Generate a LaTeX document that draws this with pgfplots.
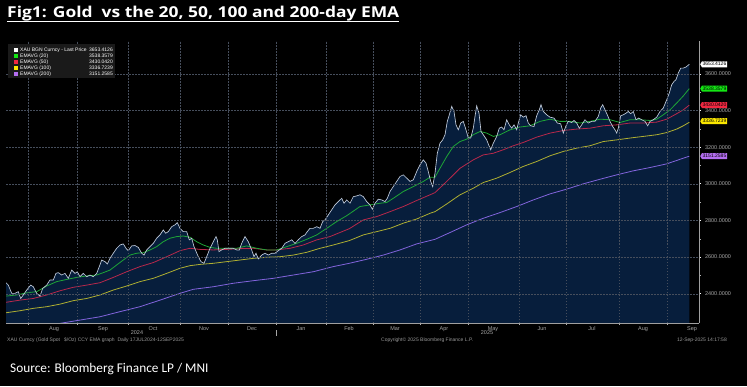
\documentclass[border=0pt]{standalone}
\usepackage{pgfplots}
\pgfplotsset{compat=1.18}
\usepackage{pgfplotstable}
\usepackage{graphicx}
\usepackage{fontspec}
\setmainfont{Liberation Sans}
\newfontfamily\titlefont{Open Sans}
\newfontfamily\srcfont{Carlito}
\usetikzlibrary{shapes.symbols}

\definecolor{navyfill}{RGB}{7,30,60}
\definecolor{priceline}{RGB}{195,205,220}
\definecolor{emagreen}{RGB}{30,165,55}
\definecolor{emared}{RGB}{185,40,75}
\definecolor{emayellow}{RGB}{175,175,50}
\definecolor{emapurple}{RGB}{130,100,220}
\definecolor{taggreen}{RGB}{20,230,20}
\definecolor{tagred}{RGB}{240,40,65}
\definecolor{tagyellow}{RGB}{250,230,0}
\definecolor{tagpurple}{RGB}{180,110,240}
\definecolor{gridc}{RGB}{70,78,92}
\definecolor{legbg}{RGB}{26,26,26}

\pgfplotstableread{
x y
6 2460
8.3 2447
11.7 2402
15 2402
18.3 2411
20.7 2374
23.3 2393
26.7 2420
30.7 2447
33.3 2438
36.7 2402
40 2387
42.7 2429
46.7 2447
50 2475
53.3 2475
56 2511
58.3 2515
61.7 2502
65 2511
68.3 2484
71.7 2529
75 2511
77.3 2520
80 2493
83.3 2511
86.7 2493
90 2502
93.3 2493
96.7 2511
99.3 2548
101.7 2584
105 2575
107.3 2562
110 2593
113.3 2621
116.7 2648
120 2666
123.3 2672
126 2648
128.3 2635
131.7 2661
135 2663
138.3 2653
141.7 2621
144 2611
146.7 2639
150 2657
153.3 2675
156.7 2703
160 2721
163.3 2748
165.7 2730
168.3 2739
171.7 2766
175 2776
177.3 2788
180 2757
183.3 2739
186.7 2739
189.3 2694
191.7 2703
194 2657
198.3 2602
201 2575
204 2566
206.7 2602
210 2648
213.3 2684
216 2712
217.3 2694
219 2630
221.7 2639
225 2648
228.3 2648
233.3 2648
236.7 2639
239.3 2639
241.7 2675
245 2712
248.3 2684
251.7 2639
254 2602
256 2621
258.3 2590
261.7 2611
265 2621
268.3 2611
271.7 2621
275 2621
278.3 2635
281.7 2648
285 2675
288.3 2684
291.7 2694
295 2675
298.3 2694
301.7 2712
305 2721
307.3 2739
310 2757
313.3 2757
316.7 2766
320 2757
322.7 2794
325 2803
328.3 2830
331.7 2858
335 2885
338.3 2903
341.7 2921
344 2894
346.7 2912
350 2894
353.3 2930
356.7 2934
360 2940
363.3 2930
366.7 2903
370 2885
372.3 2861
375 2894
378.3 2916
381.7 2912
385 2903
387.3 2921
390 2958
393.3 2985
396.7 3013
400 3040
403.3 3049
406.7 3031
410 3013
413.3 3022
416.7 3067
420 3104
423.3 3131
426 3113
428.3 3067
430.7 3013
432.7 2985
435 3058
437.3 3167
440 3222
442.7 3240
445 3268
447.3 3341
449.3 3377
451.7 3423
454 3395
456 3322
458.3 3295
460.7 3332
463.3 3341
466 3295
468.3 3250
470.7 3250
473.3 3304
475 3368
476.7 3426
479 3386
481 3286
483.3 3268
486.7 3240
489.3 3204
490.7 3186
493.3 3222
496.7 3259
499.3 3304
501.7 3310
504 3295
506.7 3350
509.3 3322
511.7 3304
514 3322
516.7 3295
518.3 3332
520.7 3377
523.3 3364
526 3372
528.3 3332
530.7 3317
534 3313
536.7 3372
539.3 3404
541 3432
543.3 3395
546.7 3377
550 3364
554 3359
557.3 3332
560.7 3328
563.3 3277
566 3317
568.3 3341
571.7 3335
574 3346
576.7 3332
579.3 3304
581.7 3322
585 3350
588.3 3332
591.7 3341
595 3341
598.3 3368
600.7 3414
602.7 3432
605 3404
607.3 3377
610 3341
612.7 3313
615 3295
616.7 3277
618.3 3304
620.7 3372
623.3 3377
626 3386
628.3 3395
630.7 3383
633.3 3395
636 3350
638.7 3359
641.7 3350
645 3341
647.7 3317
650 3341
653.3 3350
656.7 3364
660 3395
663.3 3414
666.7 3459
669.3 3496
671.7 3541
674 3559
676 3569
678.3 3605
680.7 3632
683.3 3632
686 3638
689.3 3653
}\price

\pgfplotstableread{
x y
6 2387
16.7 2393
26.7 2405
36.7 2411
46.7 2442
56.7 2466
66.7 2478
76.7 2489
86.7 2497
96.7 2502
103.3 2515
110 2529
116.7 2557
123.3 2584
130 2611
136.7 2621
143.3 2624
150 2639
156.7 2657
163.3 2684
170 2703
176.7 2712
183.3 2715
190 2708
196.7 2684
203.3 2666
210 2653
216.7 2648
226.7 2648
236.7 2648
246.7 2661
256.7 2648
266.7 2639
276.7 2639
286.7 2657
296.7 2675
306.7 2697
316.7 2721
326.7 2757
336.7 2794
346.7 2826
360 2876
370 2885
380 2894
386.7 2898
393.3 2921
403.3 2958
413.3 2985
423.3 3013
430 3036
435 3036
440 3085
446.7 3149
453.3 3204
460 3231
466.7 3244
473.3 3268
480 3286
486.7 3277
493.3 3259
500 3268
510 3295
520 3310
530 3317
540 3341
550 3353
560 3341
570 3341
580 3332
590 3341
600 3353
610 3350
620 3335
630 3350
640 3350
650 3346
656.7 3353
663.3 3377
670 3404
676.7 3441
683.3 3480
689.3 3520
}\emaA

\pgfplotstableread{
x y
6 2353
20 2365
33.3 2374
46.7 2393
60 2416
73.3 2435
86.7 2447
100 2460
113.3 2489
126.7 2520
140 2548
153.3 2570
166.7 2602
180 2635
190 2648
200 2642
213.3 2639
226.7 2642
240 2646
253.3 2648
266.7 2639
276.7 2639
290 2648
303.3 2666
316.7 2694
330 2712
349.3 2755
363.3 2803
376.7 2821
390 2848
403.3 2876
416.7 2909
430 2940
435 2952
446.7 3013
460 3085
473.3 3131
483.3 3158
493.3 3167
503.3 3186
513.3 3208
523.3 3226
536.7 3255
550 3277
563.3 3291
576.7 3299
590 3304
603.3 3317
616.7 3322
630 3332
643.3 3332
656.7 3337
666.7 3353
676.7 3383
683.3 3404
689.3 3430
}\emaB

\pgfplotstableread{
x y
6 2296
20 2307
33.3 2320
46.7 2329
60 2343
73.3 2362
86.7 2374
100 2393
113.3 2420
126.7 2442
140 2466
153.3 2484
166.7 2511
180 2539
190 2553
200 2560
213.3 2566
226.7 2575
240 2584
253.3 2593
266.7 2599
280 2602
293.3 2611
306.7 2626
320 2648
333.3 2666
349.3 2690
363.3 2721
376.7 2739
390 2757
403.3 2785
416.7 2808
430 2839
435 2848
446.7 2890
460 2940
473.3 2976
483.3 3007
496.7 3031
510 3062
523.3 3095
536.7 3122
550 3153
563.3 3177
576.7 3195
590 3208
603.3 3231
616.7 3240
630 3250
643.3 3259
656.7 3268
666.7 3280
676.7 3299
683.3 3317
689.3 3336
}\emaC

\pgfplotstableread{
x y
6 2189
33.3 2214
60 2238
100 2274
120 2302
140 2329
160 2365
180 2402
193.3 2424
213.3 2438
233.3 2457
253.3 2471
273.3 2484
293.3 2502
313.3 2520
333.3 2548
349.3 2566
366.7 2588
383.3 2611
400 2639
416.7 2672
435 2697
450 2734
466.7 2776
483.3 2812
500 2843
516.7 2876
533.3 2912
550 2945
566.7 2971
583.3 3000
600 3025
616.7 3049
633.3 3071
650 3089
666.7 3109
683.3 3140
689.3 3151
}\emaD

\begin{document}
\begin{tikzpicture}[x=1pt,y=1pt]
\fill[black] (0,0) rectangle (747,386);
\useasboundingbox (0,0) rectangle (747,386);
\begin{axis}[
  at={(6pt,63pt)}, anchor=south west,
  scale only axis, width=693pt, height=282pt,
  xmin=6, xmax=699, ymin=2240, ymax=3780,
  clip mode=individual,
  axis on top,
  axis x line*=bottom, axis y line*=right,
  axis line style={draw=gray!75, line width=0.6pt},
  xtick={28,77,128,180,228,276,326,373,420,468,519,566,619,667},
  xticklabels={},
  extra x ticks={54,103,153,204,252,301,349,395,444,493,542,592,643,692},
  extra x tick labels={Aug,Sep,Oct,Nov,Dec,Jan,Feb,Mar,Apr,May,Jun,Jul,Aug,Sep},
  extra x tick style={grid=none, major tick length=0pt},
  ytick={2400,2600,2800,3000,3200,3400,3600},
  minor y tick num=1,
  xmajorgrids, ymajorgrids,
  major grid style={draw=gridc, line width=0.4pt, dash pattern=on 1.5pt off 1.5pt},
  tick align=outside,
  major tick length=2pt, minor tick length=1.5pt,
  every tick/.style={draw=gray!60, line width=0.5pt},
  major y tick style={draw=white, line width=0.8pt},
  ticklabel style={font=\fontsize{5.5}{6}\selectfont, text=gray!70},
  yticklabel style={xshift=0.5pt},
  /pgf/number format/.cd, fixed, fixed zerofill, precision=4, 1000 sep={}, assume math mode=true,
]
\addplot[draw=none, fill=navyfill] table[x=x,y=y]{\price} \closedcycle;
\addplot[emapurple, line width=0.8pt] table[x=x,y=y]{\emaD};
\addplot[emayellow, line width=0.8pt] table[x=x,y=y]{\emaC};
\addplot[emared, line width=0.8pt] table[x=x,y=y]{\emaB};
\addplot[emagreen, line width=0.8pt] table[x=x,y=y]{\emaA};
\addplot[priceline, line width=0.65pt] table[x=x,y=y]{\price};

\begin{scope}[every node/.style={signal, signal to=west, signal pointer angle=120, inner sep=0.7pt, minimum height=6pt, anchor=west, font=\fontsize{5}{5}\selectfont, text=black}]
\node[fill=white] at (axis cs:700,3653) {3653.4126};
\node[fill=taggreen] at (axis cs:700,3520) {3538.3579};
\node[fill=tagred] at (axis cs:700,3430) {3430.0420};
\node[fill=tagyellow] at (axis cs:700,3342) {3336.7239};
\node[fill=tagpurple] at (axis cs:700,3151) {3151.2585};
\end{scope}
\end{axis}

% year labels and divider
\draw[gray!70, line width=0.5pt] (276,56) -- (276,50);
\node[font=\fontsize{5.5}{6}\selectfont, text=gray!70] at (137,53) {2024};
\node[font=\fontsize{5.5}{6}\selectfont, text=gray!70] at (487,53) {2025};

% legend
\fill[legbg] (8,342) rectangle (115,308);
\begin{scope}[every node/.style={font=\fontsize{5}{5}\selectfont, text=white, inner sep=0}]
\fill[white] (14,334) rectangle (18,338);
\node[anchor=west] at (20,336) {XAU BGN Curncy - Last Price};
\node[anchor=east] at (113,336) {3653.4126};
\fill[taggreen] (14,328) rectangle (18,332);
\node[anchor=west] at (20,330) {EMAVG (20)};
\node[anchor=east] at (113,330) {3538.3579};
\fill[tagred] (14,322) rectangle (18,326);
\node[anchor=west] at (20,324) {EMAVG (50)};
\node[anchor=east] at (113,324) {3430.0420};
\fill[tagyellow] (14,316) rectangle (18,320);
\node[anchor=west] at (20,318) {EMAVG (100)};
\node[anchor=east] at (113,318) {3336.7239};
\fill[tagpurple] (14,310) rectangle (18,314);
\node[anchor=west] at (20,312) {EMAVG (200)};
\node[anchor=east] at (113,312) {3151.2585};
\end{scope}

% bottom Bloomberg text
\begin{scope}[every node/.style={font=\fontsize{5}{5}\selectfont, text=gray!80, inner sep=0}]
\node[anchor=west] at (7,46) {XAU Curncy (Gold Spot\ \ \ \$/Oz) CCY EMA graph\ \ Daily 17JUL2024-12SEP2025};
\node[anchor=west] at (381,46) {Copyright\textcopyright\ 2025 Bloomberg Finance L.P.};
\node[anchor=east] at (727,46) {12-Sep-2025 14:17:58};
\end{scope}

% title
\node[anchor=base west, inner sep=0, text=white] at (7,368) {\resizebox{392pt}{\height}{\titlefont\bfseries\fontsize{15}{16}\selectfont Fig1: Gold\ \ vs the 20, 50, 100 and 200-day EMA}};
\draw[white, line width=1pt] (7,364.5) -- (399,364.5);

% source
\node[anchor=base west, inner sep=0, text=white, font=\srcfont\fontsize{13.3}{15}\selectfont] at (10,14) {Source: Bloomberg Finance LP / MNI};
\end{tikzpicture}
\end{document}
